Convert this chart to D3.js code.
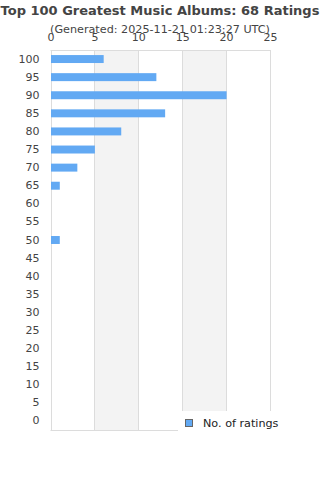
<!DOCTYPE html>
<html>
<head>
<meta charset="utf-8">
<script src="https://cdn.jsdelivr.net/npm/d3@7"></script>
<style>
  body { margin: 0; background: #fff; }
  text { font-family: "DejaVu Sans", sans-serif; }
</style>
</head>
<body>
<div id="chart"></div>
<script>
const scores = ["100", "95", "90", "85", "80", "75", "70", "65", "60", "55", "50",
  "45", "40", "35", "30", "25", "20", "15", "10", "5", "0"];
const ratings = [6, 12, 20, 13, 8, 5, 3, 1, 0, 0, 1, 0, 0, 0, 0, 0, 0, 0, 0, 0, 0];
const xTicks = [0, 5, 10, 15, 20, 25];
const title = "Top 100 Greatest Music Albums: 68 Ratings";
const subtitle = "(Generated: 2025-11-21 01:23:27 UTC)";
const seriesName = "No. of ratings";

const data = scores.map((s, i) => ({ score: s, value: ratings[i] }));

const W = 320, H = 480;
const plot = { left: 50.5, right: 270, top: 50, bottom: 430 };

const svg = d3.select("#chart").append("svg")
  .attr("width", W)
  .attr("height", H);

const x = d3.scaleLinear().domain([0, 25]).range([plot.left, plot.right]);
const y = d3.scaleBand().domain(scores).range([plot.top, plot.bottom]).paddingInner(0.56).paddingOuter(0.28);

// alternating bands
svg.selectAll(".band")
  .data([[5, 10], [15, 20]])
  .join("rect")
  .attr("x", d => x(d[0]))
  .attr("y", plot.top)
  .attr("width", d => x(d[1]) - x(d[0]))
  .attr("height", plot.bottom - plot.top)
  .attr("fill", "#f3f3f3");

// grid lines
svg.selectAll(".grid")
  .data(xTicks)
  .join("line")
  .attr("x1", d => Math.round(x(d)) + 0.5)
  .attr("x2", d => Math.round(x(d)) + 0.5)
  .attr("y1", plot.top)
  .attr("y2", plot.bottom)
  .attr("stroke", "#dcdcdc");

svg.append("line")
  .attr("x1", plot.left).attr("x2", x(25) + 1)
  .attr("y1", plot.top + 0.5).attr("y2", plot.top + 0.5)
  .attr("stroke", "#dcdcdc");
svg.append("line")
  .attr("x1", plot.left).attr("x2", x(25) + 1)
  .attr("y1", plot.bottom + 0.5).attr("y2", plot.bottom + 0.5)
  .attr("stroke", "#dcdcdc");

// bars
svg.selectAll(".bar")
  .data(data)
  .join("rect")
  .attr("class", "bar")
  .attr("x", x(0) + 0.5)
  .attr("y", d => y(d.score))
  .attr("width", d => Math.max(0, x(d.value) - x(0)))
  .attr("height", y.bandwidth())
  .attr("fill", "#62a9f3");

// top axis (labels sit right under the subtitle, as in the original)
const xAxis = svg.append("g")
  .attr("transform", `translate(0,${plot.top - 9})`)
  .call(d3.axisTop(x).tickValues(xTicks).tickSize(0).tickPadding(0));
xAxis.select(".domain").remove();
xAxis.selectAll("text")
  .attr("fill", "#444")
  .style("font-size", "11px");

// left axis
const yAxis = svg.append("g")
  .attr("transform", `translate(${plot.left - 11},0)`)
  .call(d3.axisLeft(y).tickSize(0).tickPadding(0));
yAxis.select(".domain").remove();
yAxis.selectAll("text")
  .attr("fill", "#444")
  .style("font-size", "11px");

// titles
svg.append("text")
  .attr("x", W / 2)
  .attr("y", 15)
  .attr("text-anchor", "middle")
  .attr("fill", "#444")
  .style("font-size", "13px")
  .style("font-weight", "bold")
  .text(title);

svg.append("text")
  .attr("x", W / 2)
  .attr("y", 33)
  .attr("text-anchor", "middle")
  .attr("fill", "#444")
  .style("font-size", "11.2px")
  .text(subtitle);

// legend
const legend = svg.append("g");
legend.append("rect")
  .attr("x", 178)
  .attr("y", 411)
  .attr("width", 110)
  .attr("height", 21)
  .attr("fill", "#fff");
legend.append("rect")
  .attr("x", 185.5)
  .attr("y", 419.5)
  .attr("width", 7)
  .attr("height", 7)
  .attr("fill", "#62a9f3")
  .attr("stroke", "#666");
legend.append("text")
  .attr("x", 203)
  .attr("y", 427)
  .attr("fill", "#222")
  .style("font-size", "11.2px")
  .text(seriesName);
</script>
</body>
</html>
